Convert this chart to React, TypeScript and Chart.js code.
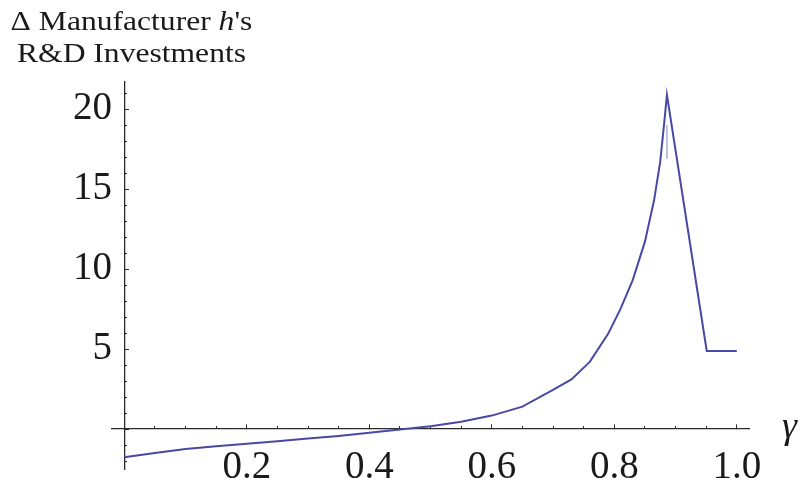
import React, { useEffect, useRef } from "react";
import { Chart, registerables } from "chart.js";
Chart.register(...registerables);

const gammaValues = [0, 0.05, 0.1, 0.15, 0.2, 0.25, 0.3, 0.35, 0.4, 0.45, 0.5, 0.55, 0.6, 0.65, 0.7, 0.73, 0.76, 0.79, 0.81, 0.83, 0.85, 0.865, 0.875, 0.882, 0.886, 0.951, 1.0];
const deltaInvestment = [-1.77, -1.5, -1.25, -1.07, -0.92, -0.76, -0.6, -0.43, -0.23, -0.03, 0.18, 0.45, 0.84, 1.4, 2.45, 3.1, 4.2, 5.95, 7.5, 9.3, 11.7, 14.3, 16.7, 19.3, 20.9, 4.88, 4.88];
const peakMarkGamma = [0.886, 0.886];
const peakMarkValues = [19.0, 16.9];

const xLabelTicks = [0.2, 0.4, 0.6, 0.8, 1.0];
const yLabelTicks = [5, 10, 15, 20];

const FAM = "'Liberation Serif', 'Times New Roman', 'DejaVu Serif', serif";
const AXIS = "#2b2b2b";

const textPlugin = {
  id: "textPlugin",
  afterDraw(chart: any) {
    const ctx = chart.ctx;
    ctx.save();
    ctx.fillStyle = "#1a1a1a";
    ctx.textBaseline = "alphabetic";
    const reg = `27px ${FAM}`;
    const ita = `italic 27px ${FAM}`;
    const p1 = "\u0394 Manufacturer ";
    const p2 = "h";
    const p3 = "'s";
    ctx.font = reg;
    const w1 = ctx.measureText(p1).width;
    const w3 = ctx.measureText(p3).width;
    ctx.font = ita;
    const w2 = ctx.measureText(p2).width;
    const total = w1 + w2 + w3;
    ctx.translate(131.5, 0);
    ctx.scale(1.17, 1);
    let x = -total / 2;
    ctx.textAlign = "left";
    ctx.font = reg;
    ctx.fillText(p1, x, 29.5);
    x += w1;
    ctx.font = ita;
    ctx.fillText(p2, x, 29.5);
    x += w2;
    ctx.font = reg;
    ctx.fillText(p3, x, 29.5);
    ctx.textAlign = "center";
    ctx.fillText("R&D Investments", 0, 61.5);
    ctx.restore();

    ctx.save();
    ctx.fillStyle = "#1a1a1a";
    ctx.font = `italic 38px ${FAM}`;
    ctx.textAlign = "left";
    ctx.textBaseline = "alphabetic";
    const y0 = chart.scales.y.getPixelForValue(0);
    ctx.fillText("\u03B3", chart.chartArea.right + 33, y0 + 9);
    ctx.restore();
  },
};

const zeroW = (s: any) => { s.width = 0; s.paddingTop = 0; s.paddingBottom = 0; };
const zeroH = (s: any) => { s.height = 0; s.paddingLeft = 0; s.paddingRight = 0; };

export default function App() {
  const ref = useRef<HTMLCanvasElement | null>(null);
  useEffect(() => {
    if (!ref.current) return;
    const main = gammaValues.map((g, i) => ({ x: g, y: deltaInvestment[i] }));
    const mark = peakMarkGamma.map((g, i) => ({ x: g, y: peakMarkValues[i] }));
    const tickFont = { family: FAM, size: 39, lineHeight: 1 };
    const chart = new Chart(ref.current, {
      type: "scatter",
      data: {
        datasets: [
          {
            data: mark,
            showLine: true,
            borderColor: "rgba(170,170,215,0.7)",
            borderWidth: 1,
            pointRadius: 0,
            xAxisID: "x",
            yAxisID: "y",
          },
          {
            data: main,
            showLine: true,
            borderColor: "rgb(72,72,165)",
            borderWidth: 2,
            pointRadius: 0,
            xAxisID: "x",
            yAxisID: "y",
          },
        ],
      },
      options: {
        animation: false,
        responsive: false,
        events: [],
        layout: { padding: { left: 0, right: 51, top: 82, bottom: 15 } },
        plugins: { legend: { display: false }, tooltip: { enabled: false }, title: { display: false } },
        scales: {
          x: {
            type: "linear",
            axis: "x",
            position: { y: 0 },
            min: -0.02,
            max: 1.02,
            afterFit: zeroH,
            afterBuildTicks: (s: any) => { s.ticks = [0, ...xLabelTicks].map((v) => ({ value: v })); },
            ticks: {
              font: tickFont,
              color: "#1a1a1a",
              padding: 24,
              maxRotation: 0,
              autoSkip: false,
              callback: (v: any) => (Number(v) === 0 ? "" : Number(v).toFixed(1)),
            },
            grid: { drawOnChartArea: false, drawTicks: true, tickLength: -5, color: AXIS, lineWidth: 1 },
            border: { display: true, color: AXIS, width: 1.3 },
          },
          x2: {
            type: "linear",
            axis: "x",
            position: { y: 0 },
            min: -0.02,
            max: 1.02,
            afterFit: zeroH,
            ticks: { display: false, stepSize: 0.05, includeBounds: false, autoSkip: false },
            grid: { drawOnChartArea: false, drawTicks: true, tickLength: -3, color: AXIS, lineWidth: 1 },
            border: { display: false },
          },
          y: {
            type: "linear",
            axis: "y",
            position: { x: 0 },
            min: -2.5,
            max: 21.7,
            afterFit: zeroW,
            afterBuildTicks: (s: any) => { s.ticks = [0, ...yLabelTicks].map((v) => ({ value: v })); },
            ticks: { display: false, autoSkip: false },
            grid: { drawOnChartArea: false, drawTicks: true, tickLength: -5, color: AXIS, lineWidth: 1 },
            border: { display: true, color: AXIS, width: 1.3 },
          },
          y2: {
            type: "linear",
            axis: "y",
            position: { x: 0 },
            min: -2.5,
            max: 21.7,
            afterFit: zeroW,
            ticks: { display: false, stepSize: 1, includeBounds: false, autoSkip: false },
            grid: { drawOnChartArea: false, drawTicks: true, tickLength: -3, color: AXIS, lineWidth: 1 },
            border: { display: false },
          },
          yL: {
            type: "linear",
            axis: "y",
            position: "left",
            min: -2.5,
            max: 21.7,
            afterFit: (s: any) => { s.width = 112; s.paddingTop = 0; s.paddingBottom = 0; },
            afterBuildTicks: (s: any) => { s.ticks = yLabelTicks.map((v) => ({ value: v })); },
            ticks: {
              font: tickFont,
              color: "#1a1a1a",
              padding: 0,
              autoSkip: false,
              callback: (v: any) => String(v),
            },
            grid: { display: false, drawTicks: false },
            border: { display: false },
          },
        },
      } as any,
      plugins: [textPlugin],
    });
    return () => chart.destroy();
  }, []);
  return (
    <div style={{ position: "absolute", left: 0, top: 0, width: 800, height: 484, background: "#fff" }}>
      <canvas ref={ref} width={800} height={484} style={{ display: "block" }} />
    </div>
  );
}
